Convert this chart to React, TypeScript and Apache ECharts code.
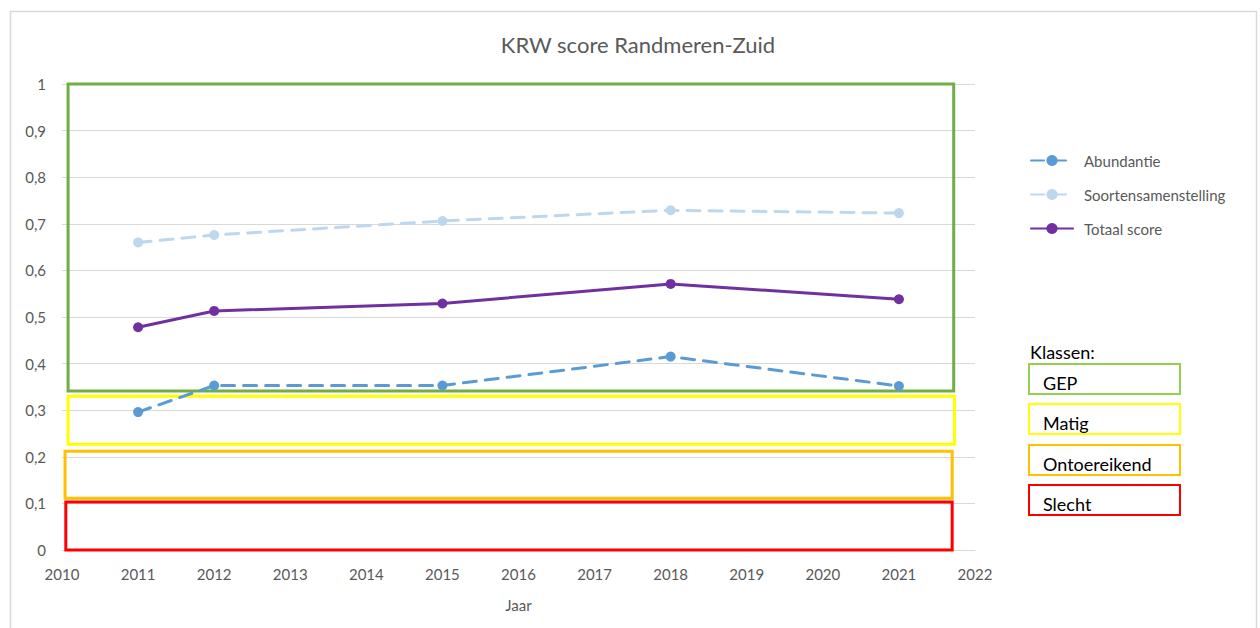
import React, { useEffect, useRef } from "react";
import * as echarts from "echarts";

const years = [2011, 2012, 2015, 2018, 2021];
const abundantie = [0.296, 0.353, 0.353, 0.415, 0.352];
const soortensamenstelling = [0.66, 0.676, 0.706, 0.729, 0.723];
const totaalScore = [0.478, 0.513, 0.529, 0.571, 0.538];

const seriesNames = ["Abundantie", "Soortensamenstelling", "Totaal score"];
const seriesColors = ["#5B9BD5", "#BDD7EE", "#7030A0"];

// class boxes in data coordinates: [x0, x1, yTop, yBottom]
const klassenNames = ["GEP", "Matig", "Ontoereikend", "Slecht"];
const klassenColors = ["#70AD47", "#FFFF00", "#FFC000", "#FF0000"];
const klassenLegendColors = ["#92D050", "#FFFF00", "#FFC000", "#FF0000"];
const klassenBoxes = [
  [2010.08, 2021.72, 1.0, 0.341],
  [2010.08, 2021.73, 0.33, 0.227],
  [2010.04, 2021.7, 0.212, 0.111],
  [2010.05, 2021.7, 0.103, 0.0],
];

const FONT = "Lato, 'Open Sans', sans-serif";

export default function App() {
  const ref = useRef<HTMLDivElement>(null);
  useEffect(() => {
    if (!ref.current) return;
    const chart = echarts.init(ref.current, null, { renderer: "svg" });
    const mk = (vals: number[]) => years.map((y, i) => [y, vals[i]]);
    const lineSeries = [abundantie, soortensamenstelling, totaalScore].map((vals, i) => ({
      name: seriesNames[i],
      type: "line",
      data: mk(vals),
      symbol: "circle",
      symbolSize: 10,
      z: 5,
      lineStyle: {
        color: seriesColors[i],
        width: 3,
        type: i < 2 ? [13, 9] : "solid",
        cap: "round",
      },
      itemStyle: { color: seriesColors[i] },
    }));
    const boxSeries = {
      name: "boxes",
      type: "line",
      data: [],
      z: 3,
      markArea: {
        silent: true,
        label: { show: false },
        data: klassenBoxes.map((b, i) => [
          {
            xAxis: b[0],
            yAxis: b[2],
            itemStyle: {
              color: "rgba(0,0,0,0)",
              borderColor: klassenColors[i],
              borderWidth: 3,
            },
          },
          { xAxis: b[1], yAxis: b[3] },
        ]),
      },
    };

    const graphics: any[] = [
      {
        type: "rect",
        shape: { x: 10.5, y: 11.5, width: 1246, height: 640 },
        style: { fill: "none", stroke: "#D9D9D9", lineWidth: 1.5 },
        silent: true,
      },
      {
        type: "text",
        x: 1030,
        y: 352,
        style: {
          text: "Klassen:",
          font: `18px ${FONT}`,
          fill: "#000000",
          verticalAlign: "middle",
        },
      },
    ];
    const boxTops = [364, 404, 445, 485];
    klassenNames.forEach((n, i) => {
      graphics.push({
        type: "rect",
        shape: { x: 1029, y: boxTops[i], width: 151, height: 30 },
        style: { fill: "none", stroke: klassenLegendColors[i], lineWidth: 2 },
      });
      graphics.push({
        type: "text",
        x: 1043,
        y: boxTops[i] + 19,
        style: {
          text: n,
          font: `18px ${FONT}`,
          fill: "#000000",
          verticalAlign: "middle",
        },
      });
    });

    chart.setOption({
      animation: false,
      backgroundColor: "#ffffff",
      title: {
        text: "KRW score Randmeren-Zuid",
        left: 633,
        top: 28,
        textAlign: "center",
        textStyle: { fontFamily: FONT, fontSize: 22, fontWeight: "normal", color: "#595959" },
      },
      legend: {
        orient: "vertical",
        left: 1025,
        top: 148,
        itemGap: 19,
        itemWidth: 42,
        itemHeight: 14,
        data: seriesNames,
        textStyle: { fontFamily: FONT, fontSize: 15, color: "#595959", padding: [0, 0, 0, 6] },
      },
      grid: { left: 62, right: 285, top: 84, bottom: 78, containLabel: false },
      xAxis: {
        type: "value",
        min: 2010,
        max: 2022,
        interval: 1,
        name: "Jaar",
        nameLocation: "middle",
        nameGap: 47,
        nameTextStyle: { fontFamily: FONT, fontSize: 15, color: "#595959" },
        axisLine: { show: true, lineStyle: { color: "#D9D9D9" } },
        axisTick: { show: false },
        splitLine: { show: false },
        axisLabel: {
          fontFamily: FONT,
          fontSize: 15,
          color: "#595959",
          margin: 16,
          formatter: (v: number) => String(Math.round(v)),
        },
      },
      yAxis: {
        type: "value",
        min: 0,
        max: 1,
        interval: 0.1,
        axisLine: { show: false },
        axisTick: { show: false },
        splitLine: { show: true, lineStyle: { color: "#D9D9D9", width: 1 } },
        axisLabel: {
          fontFamily: FONT,
          fontSize: 15,
          color: "#595959",
          margin: 16,
          formatter: (v: number) => String(Math.round(v * 10) / 10).replace(".", ","),
        },
      },
      graphic: graphics,
      series: [boxSeries, ...lineSeries],
    });
    return () => chart.dispose();
  }, []);
  return (
    <div
      ref={ref}
      style={{ position: "fixed", left: 0, top: 0, width: 1260, height: 628, background: "#fff" }}
    />
  );
}
